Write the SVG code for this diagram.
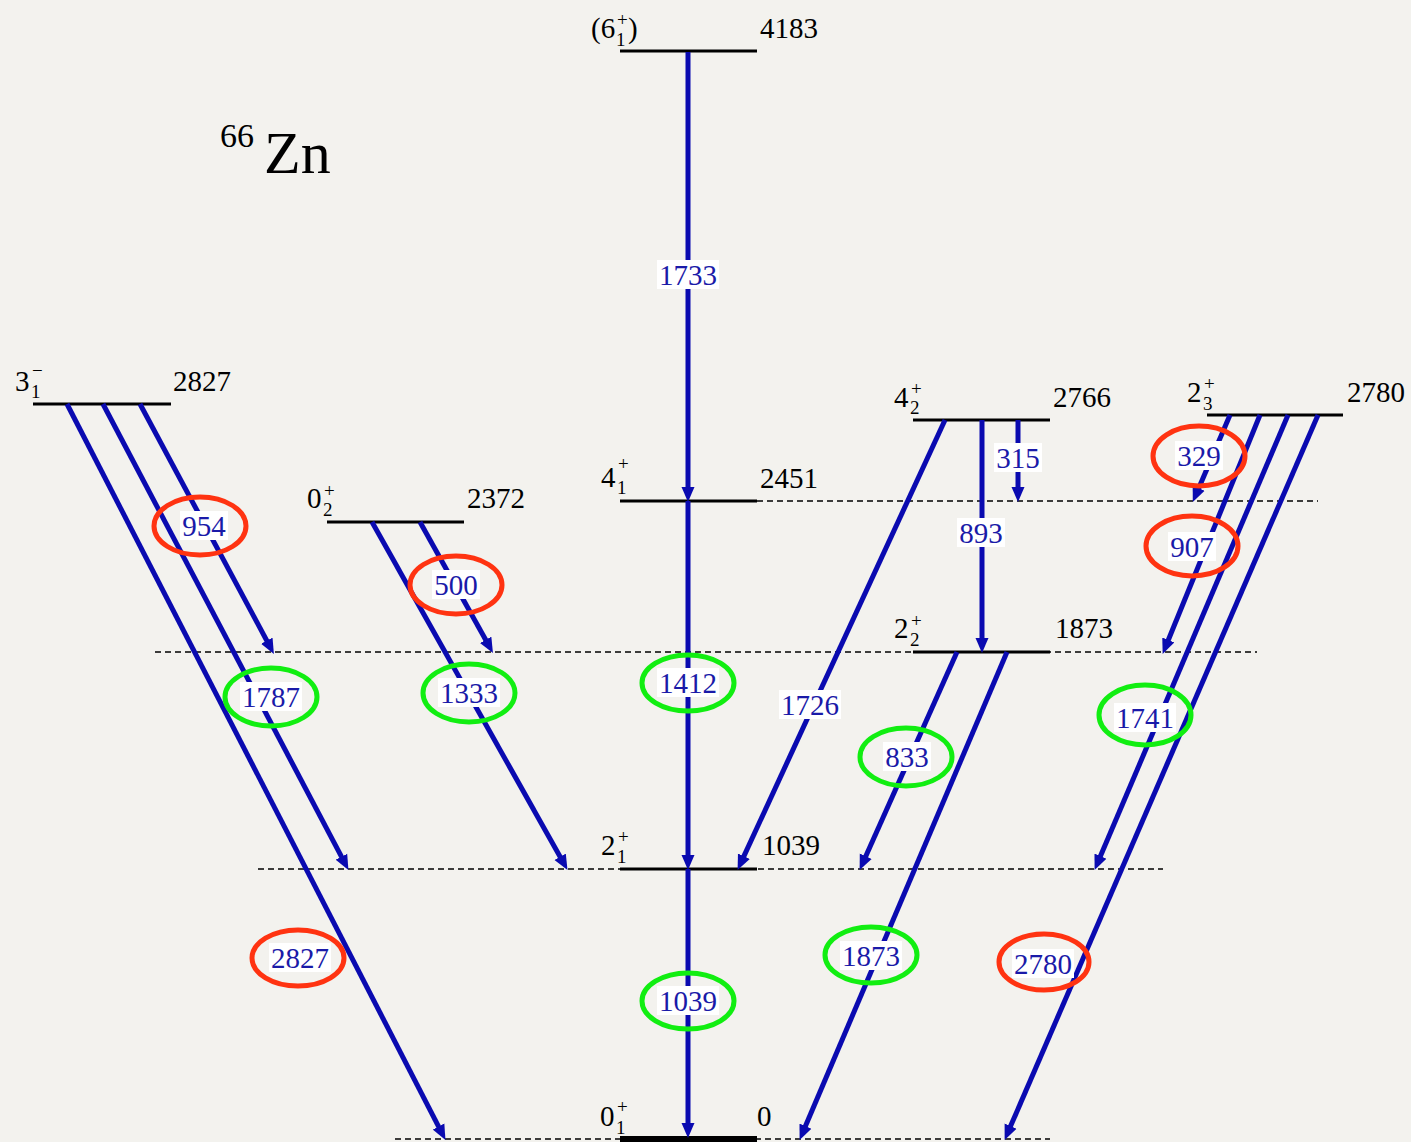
<svg xmlns="http://www.w3.org/2000/svg" width="1411" height="1142" viewBox="0 0 1411 1142">
<defs>
<marker id="ah" markerUnits="userSpaceOnUse" markerWidth="16" markerHeight="14" refX="4" refY="7" orient="auto">
<path d="M0,0.5 L15,7 L0,13.5 z" fill="#0a0ab0"/>
</marker>
<style>
.lvl{stroke:#000;stroke-width:3;fill:none}
.dash{stroke:#000;stroke-width:1.5;stroke-dasharray:6 4;fill:none}
.tr{stroke:#0a0ab0;stroke-width:5;fill:none;marker-end:url(#ah)}
text{font-family:"Liberation Serif","Times New Roman",Times,Tinos,"Noto Serif","DejaVu Serif",FreeSerif,serif}
.lt{font-size:29px;fill:#000}
.ls{font-size:19px}
.gl{font-size:29px;fill:#1a1aa8;text-anchor:middle}
.bg{fill:#fff}
.red{fill:none;stroke:#ff3311;stroke-width:5}
.grn{fill:none;stroke:#11ee11;stroke-width:5}
</style>
</defs>
<rect width="1411" height="1142" fill="#f3f2ee"/>

<text fill="#000"><tspan x="220" y="147" font-size="34">66</tspan><tspan x="264" y="173" font-size="60">Zn</tspan></text>

<g id="dashes">
<line class="dash" x1="757" y1="501" x2="1318" y2="501"/>
<line class="dash" x1="155" y1="652" x2="1257" y2="652"/>
<line class="dash" x1="258" y1="869" x2="1163" y2="869"/>
<line class="dash" x1="395" y1="1139" x2="1050" y2="1139"/>
</g>

<g id="lvl-6-1">
<line class="lvl" x1="620" y1="51" x2="757" y2="51"/>
<text class="lt"><tspan x="591" y="38">(6</tspan><tspan class="ls" x="616" y="46">1</tspan><tspan class="ls" x="617" y="26">+</tspan><tspan x="628" y="38">)</tspan></text>
<text class="lt" x="760" y="38">4183</text>
</g>
<g id="lvl-4-1">
<line class="lvl" x1="620" y1="501" x2="757" y2="501"/>
<text class="lt"><tspan x="601" y="487">4</tspan><tspan class="ls" x="617" y="494">1</tspan><tspan class="ls" x="618" y="470">+</tspan></text>
<text class="lt" x="760" y="488">2451</text>
</g>
<g id="lvl-2-1">
<line class="lvl" x1="620" y1="869" x2="757" y2="869"/>
<text class="lt"><tspan x="601" y="855">2</tspan><tspan class="ls" x="617" y="863">1</tspan><tspan class="ls" x="618" y="843">+</tspan></text>
<text class="lt" x="762" y="855">1039</text>
</g>
<g id="lvl-0-1">
<line x1="620" y1="1139" x2="757" y2="1139" stroke="#000" stroke-width="6"/>
<text class="lt"><tspan x="600" y="1126">0</tspan><tspan class="ls" x="616" y="1134">1</tspan><tspan class="ls" x="617" y="1113">+</tspan></text>
<text class="lt" x="757" y="1126">0</text>
</g>
<g id="lvl-3-1">
<line class="lvl" x1="33" y1="404" x2="171" y2="404"/>
<text class="lt"><tspan x="15" y="391">3</tspan><tspan class="ls" x="31" y="398">1</tspan><tspan class="ls" x="32" y="377">−</tspan></text>
<text class="lt" x="173" y="391">2827</text>
</g>
<g id="lvl-0-2">
<line class="lvl" x1="327" y1="522" x2="464" y2="522"/>
<text class="lt"><tspan x="307" y="508">0</tspan><tspan class="ls" x="323" y="516">2</tspan><tspan class="ls" x="324" y="497">+</tspan></text>
<text class="lt" x="467" y="508">2372</text>
</g>
<g id="lvl-4-2">
<line class="lvl" x1="913" y1="420" x2="1050" y2="420"/>
<text class="lt"><tspan x="894" y="407">4</tspan><tspan class="ls" x="910" y="414">2</tspan><tspan class="ls" x="911" y="395">+</tspan></text>
<text class="lt" x="1053" y="407">2766</text>
</g>
<g id="lvl-2-2">
<line class="lvl" x1="913" y1="652" x2="1050" y2="652"/>
<text class="lt"><tspan x="894" y="638">2</tspan><tspan class="ls" x="910" y="646">2</tspan><tspan class="ls" x="911" y="627">+</tspan></text>
<text class="lt" x="1055" y="638">1873</text>
</g>
<g id="lvl-2-3">
<line class="lvl" x1="1207" y1="415" x2="1343" y2="415"/>
<text class="lt"><tspan x="1187" y="402">2</tspan><tspan class="ls" x="1203" y="410">3</tspan><tspan class="ls" x="1204" y="390">+</tspan></text>
<text class="lt" x="1347" y="402">2780</text>
</g>

<g id="connectors">
<line class="tr" x1="688" y1="52" x2="688" y2="491"/>
<line class="tr" x1="688" y1="501" x2="688" y2="859"/>
<line class="tr" x1="688" y1="869" x2="688" y2="1127"/>
<line class="tr" x1="67" y1="404" x2="440.4" y2="1130.1"/>
<line class="tr" x1="103" y1="404" x2="343.3" y2="860.2"/>
<line class="tr" x1="140" y1="404" x2="268.7" y2="644.2"/>
<line class="tr" x1="372" y1="522" x2="562.1" y2="860.3"/>
<line class="tr" x1="420" y1="522" x2="487.6" y2="643.3"/>
<line class="tr" x1="945" y1="420" x2="742.2" y2="859.9"/>
<line class="tr" x1="982" y1="420" x2="982" y2="642"/>
<line class="tr" x1="1018" y1="420" x2="1018" y2="491"/>
<line class="tr" x1="957" y1="652" x2="864.1" y2="859.9"/>
<line class="tr" x1="1007" y1="652" x2="803.9" y2="1129.8"/>
<line class="tr" x1="1230" y1="415" x2="1197.1" y2="491.9"/>
<line class="tr" x1="1260" y1="415" x2="1166.8" y2="643.7"/>
<line class="tr" x1="1288" y1="415" x2="1098.9" y2="859.8"/>
<line class="tr" x1="1318" y1="415" x2="1009" y2="1129.8"/>
</g>

<g id="labels">
<rect class="bg" x="657" y="260" width="62" height="29"/><text class="gl" x="688" y="285">1733</text>
<rect class="bg" x="657" y="668" width="62" height="29"/><text class="gl" x="688" y="693">1412</text>
<ellipse class="grn" cx="688" cy="683" rx="46" ry="28"/>
<rect class="bg" x="180" y="511" width="48" height="29"/><text class="gl" x="204" y="536">954</text>
<ellipse class="red" cx="200" cy="526" rx="46" ry="29"/>
<rect class="bg" x="657" y="986" width="62" height="29"/><text class="gl" x="688" y="1011">1039</text>
<ellipse class="grn" cx="688" cy="1001" rx="46" ry="28"/>
<rect class="bg" x="240" y="682" width="62" height="29"/><text class="gl" x="271" y="707">1787</text>
<ellipse class="grn" cx="271" cy="697" rx="46" ry="29"/>
<rect class="bg" x="432" y="570" width="48" height="29"/><text class="gl" x="456" y="595">500</text>
<ellipse class="red" cx="456" cy="585" rx="46" ry="29"/>
<rect class="bg" x="438" y="678" width="62" height="29"/><text class="gl" x="469" y="703">1333</text>
<ellipse class="grn" cx="469" cy="693" rx="46" ry="29"/>
<rect class="bg" x="269" y="943" width="62" height="29"/><text class="gl" x="300" y="968">2827</text>
<ellipse class="red" cx="298" cy="958" rx="46" ry="28"/>
<rect class="bg" x="779" y="690" width="62" height="29"/><text class="gl" x="810" y="715">1726</text>
<rect class="bg" x="957" y="518" width="48" height="29"/><text class="gl" x="981" y="543">893</text>
<rect class="bg" x="994" y="443" width="48" height="29"/><text class="gl" x="1018" y="468">315</text>
<rect class="bg" x="883" y="742" width="48" height="29"/><text class="gl" x="907" y="767">833</text>
<ellipse class="grn" cx="906" cy="757" rx="46" ry="29"/>
<rect class="bg" x="840" y="941" width="62" height="29"/><text class="gl" x="871" y="966">1873</text>
<ellipse class="grn" cx="871" cy="955" rx="46" ry="28"/>
<rect class="bg" x="1175" y="441" width="48" height="29"/><text class="gl" x="1199" y="466">329</text>
<ellipse class="red" cx="1199" cy="456" rx="46" ry="30"/>
<rect class="bg" x="1168" y="532" width="48" height="29"/><text class="gl" x="1192" y="557">907</text>
<ellipse class="red" cx="1192" cy="546" rx="46" ry="30"/>
<rect class="bg" x="1114" y="703" width="62" height="29"/><text class="gl" x="1145" y="728">1741</text>
<ellipse class="grn" cx="1145" cy="715" rx="46" ry="30"/>
<rect class="bg" x="1012" y="949" width="62" height="29"/><text class="gl" x="1043" y="974">2780</text>
<ellipse class="red" cx="1044" cy="962" rx="45" ry="28"/>
</g>
</svg>
